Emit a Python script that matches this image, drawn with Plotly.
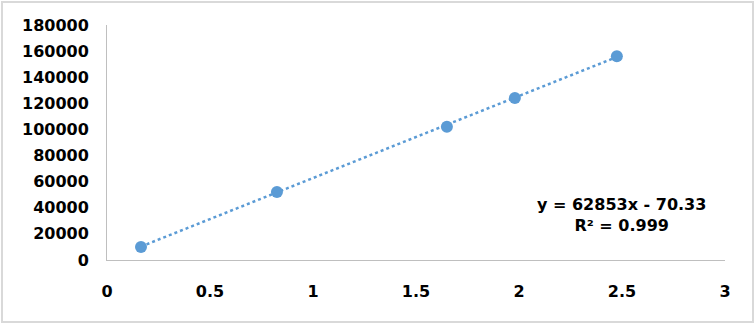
import numpy as np
import plotly.graph_objects as go

x_vals = [0.165, 0.825, 1.65, 1.98, 2.475]
y_vals = [10000, 52000, 102000, 124000, 156000]
slope = 62853
intercept = -70.33
eq_text = "y = 62853x - 70.33<br>R² = 0.999"
x_ticks = [0, 0.5, 1, 1.5, 2, 2.5, 3]
y_ticks = [0, 20000, 40000, 60000, 80000, 100000, 120000, 140000, 160000, 180000]

W, H = 756, 326
L, R, T, B = 107, 31, 25, 66
pw, ph = W - L - R, H - T - B

color = "#5B9BD5"
font = dict(family="DejaVu Sans, Arial, sans-serif", size=16, color="#000000", weight="bold")

tx = np.array([min(x_vals), max(x_vals)])
ty = slope * tx + intercept

fig = go.Figure()
fig.add_trace(go.Scatter(x=tx, y=ty, mode="lines",
                         line=dict(color=color, width=2.5, dash="dot"),
                         hoverinfo="skip", showlegend=False))
fig.add_trace(go.Scatter(x=x_vals, y=y_vals, mode="markers",
                         marker=dict(color=color, size=12),
                         showlegend=False))

fig.update_layout(
    width=W, height=H,
    margin=dict(l=L, r=R, t=T, b=B),
    paper_bgcolor="white", plot_bgcolor="white",
    font=font,
    xaxis=dict(range=[0, 3], tickvals=x_ticks, ticktext=[str(v) for v in x_ticks],
               showgrid=False, zeroline=False, showline=True, linecolor="#BFBFBF",
               linewidth=1, ticks="", ticklabelstandoff=17, tickfont=font),
    yaxis=dict(range=[0, 180000], tickvals=y_ticks, ticktext=[str(v) for v in y_ticks],
               showgrid=False, zeroline=False, showline=True, linecolor="#BFBFBF",
               linewidth=1, ticks="", ticklabelstandoff=14, tickfont=font),
)

fig.add_annotation(xref="paper", yref="paper",
                   x=(621 - L) / pw, y=1 - (215 - T) / ph,
                   xanchor="center", yanchor="middle",
                   text=eq_text, showarrow=False, align="center",
                   font=dict(family="DejaVu Sans, Arial, sans-serif", size=16,
                             color="#000000", weight="bold"))

fig.add_shape(type="rect", xref="paper", yref="paper",
              x0=(2 - L) / pw, x1=(753 - L) / pw,
              y0=1 - (322 - T) / ph, y1=1 - (2 - T) / ph,
              line=dict(color="#D9D9D9", width=2), layer="below")

fig.write_html("out.html")
